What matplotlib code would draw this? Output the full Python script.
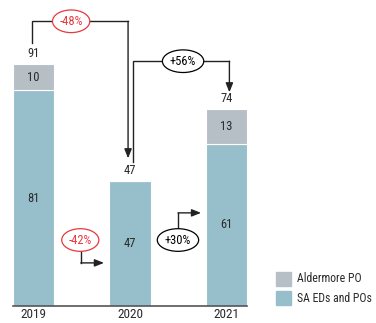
import matplotlib
matplotlib.use("Agg")
import matplotlib.pyplot as plt
from matplotlib.patches import Patch
from matplotlib import font_manager

years = ["2019", "2020", "2021"]
sa_eds = [81, 47, 61]
aldermore = [10, 0, 13]
totals = [91, 47, 74]
chg_total = ["-48%", "+56%"]
chg_sa = ["-42%", "+30%"]

BLUE = "#96bfcb"
GREY = "#b6bec6"
RED = "#e8383d"
TXT = "#2a2a2a"
names = {f.name for f in font_manager.fontManager.ttflist}
cands = [n for n in ["Liberation Sans Narrow", "Roboto Condensed", "DejaVu Sans"] if n in names]
plt.rcParams["font.family"] = cands + ["DejaVu Sans"]
plt.rcParams["font.stretch"] = "condensed"

W, H = 376, 323
fig = plt.figure(figsize=(W / 100, H / 100), dpi=100)
ax = fig.add_axes([13 / W, (H - 306) / H, (247 - 13) / W, 306 / H])
x = list(range(len(years)))
bw = 0.425
ax.bar(x, sa_eds, width=bw, color=BLUE, edgecolor="white", linewidth=0.8)
ax.bar(x, aldermore, bottom=sa_eds, width=bw, color=GREY, edgecolor="white", linewidth=0.8)
ax.set_xlim(-0.2124, 2.2124)
ax.set_ylim(0, 115)
for s in ["top", "right", "left"]:
    ax.spines[s].set_visible(False)
ax.spines["bottom"].set_color("#555555")
ax.spines["bottom"].set_linewidth(1.2)
ax.set_yticks([])
ax.set_xticks(x)
ax.set_xticklabels(years, fontsize=9.5, color=TXT)
ax.tick_params(axis="x", length=0, pad=1.5)

fs = 9
for i in x:
    ax.text(i, sa_eds[i] / 2, str(sa_eds[i]), ha="center", va="center", fontsize=fs, color=TXT)
    if aldermore[i]:
        ax.text(i, sa_eds[i] + aldermore[i] / 2, str(aldermore[i]), ha="center", va="center", fontsize=fs, color=TXT)
    ax.text(i, totals[i] + 4, str(totals[i]), ha="center", va="center", fontsize=fs, color=TXT)

lw = 1.0
def elbow(pts):
    xs = [p[0] for p in pts]
    ys = [p[1] for p in pts]
    ax.plot(xs[:-1], ys[:-1], color="#222222", lw=lw, clip_on=False, solid_joinstyle="miter")
    ax.annotate("", xy=pts[-1], xytext=pts[-2],
                arrowprops=dict(arrowstyle="-|>,head_length=0.55,head_width=0.22", color="#222222", lw=lw,
                                shrinkA=0, shrinkB=0), annotation_clip=False)

def label(xc, yc, txt, color):
    ax.text(xc, yc, txt, ha="center", va="center", fontsize=fs, color=color, zorder=5,
            bbox=dict(boxstyle="ellipse,pad=0.12", fc="white", ec=color, lw=0.9))

top1 = totals[0] + 16
elbow([(-0.016, totals[0] + 8), (-0.016, top1), (0.98, top1), (0.98, totals[1] + 8.5)])
label(0.39, top1, chg_total[0], RED)
top2 = totals[2] + 18
elbow([(1.03, totals[1] + 7), (1.03, top2), (2.03, top2), (2.03, totals[2] + 6.3)])
label(1.55, top2, chg_total[1], "black")
elbow([(0.49, 22.5), (0.49, 16.2), (0.73, 16.2)])
label(0.485, 24.8, chg_sa[0], RED)
elbow([(1.497, 27.5), (1.497, 35), (1.736, 35)])
label(1.497, 24.8, chg_sa[1], "black")

handles = [Patch(color=GREY), Patch(color=BLUE)]
fig.legend(handles, ["Aldermore PO", "SA EDs and POs"], loc="upper left",
           bbox_to_anchor=(272 / W, 1 - 268 / H), frameon=False, fontsize=8.5,
           handlelength=1.3, handleheight=1.45, handletextpad=0.5, labelspacing=0.45,
           borderaxespad=0, borderpad=0.3, labelcolor=TXT)

fig.savefig("out.png", dpi=100)
